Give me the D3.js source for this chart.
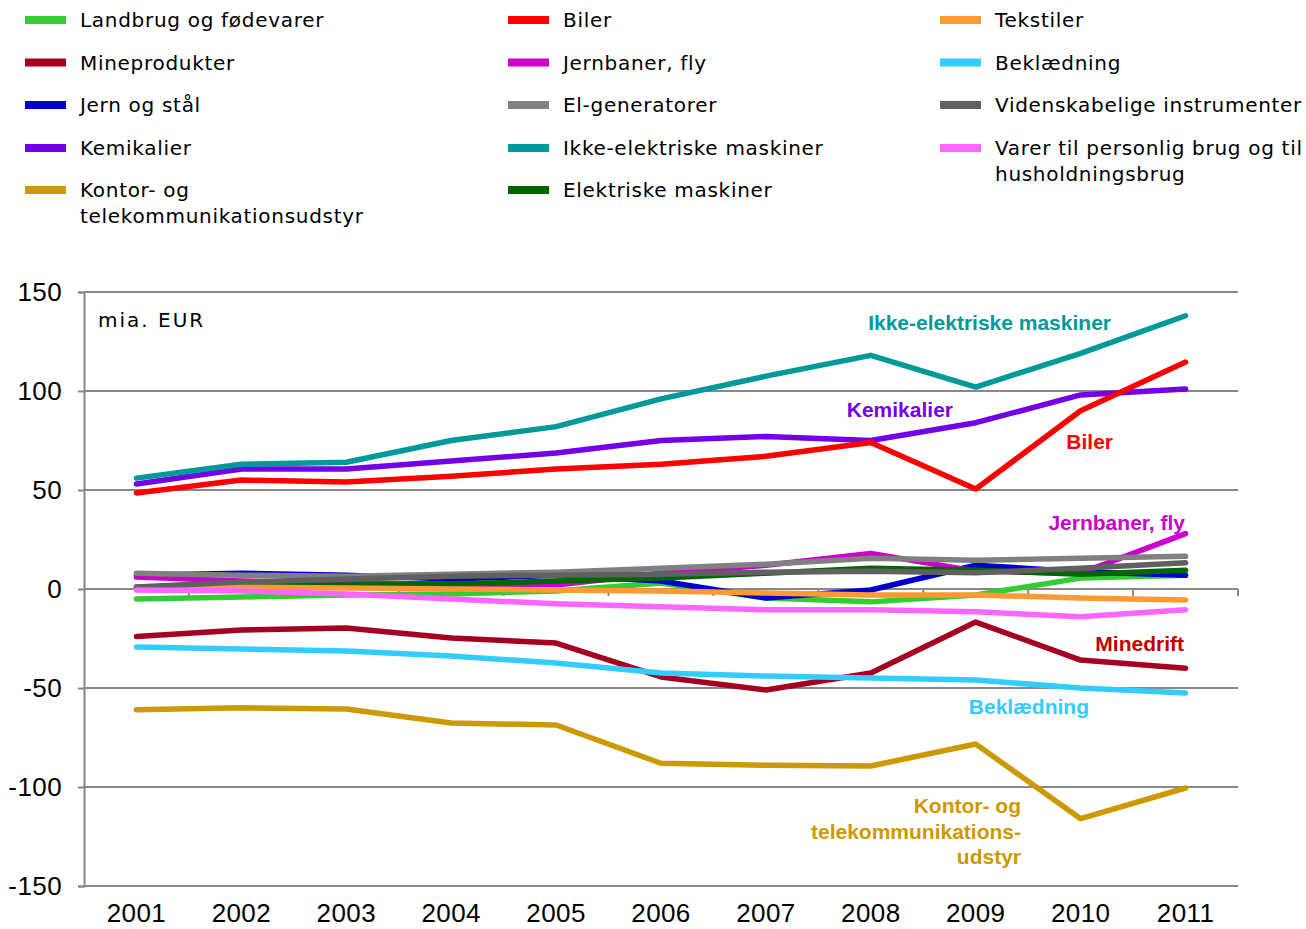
<!DOCTYPE html>
<html lang="da">
<head>
    <meta charset="UTF-8">
    <title>Handelsbalance efter varegruppe</title>
    <script src="https://d3js.org/d3.v7.min.js"></script>
    <style>
        body { margin: 0; background: white; }
        svg { display: block; }
        .legend-text { font-family: "DejaVu Sans", Verdana, sans-serif; font-size: 20px; letter-spacing: 0.7px; fill: #000; }
        .axis text { font-family: "Liberation Sans", Arial, sans-serif; font-size: 26px; letter-spacing: 0.4px; fill: #000; }
        .unit { font-family: "DejaVu Sans", Verdana, sans-serif; font-size: 20px; letter-spacing: 2px; fill: #000; }
        .line-label { font-family: "Liberation Sans", Arial, sans-serif; font-size: 21px; font-weight: bold; }
    </style>
</head>
<body>
<svg id="chart"></svg>
<script>
    const years = ["2001", "2002", "2003", "2004", "2005", "2006", "2007", "2008", "2009", "2010", "2011"];
    const yTicks = [-150, -100, -50, 0, 50, 100, 150];

    const names = [
        "Landbrug og fødevarer", "Mineprodukter", "Jern og stål", "Kemikalier",
        "Kontor- og telekommunikationsudstyr",
        "Biler", "Jernbaner, fly", "El-generatorer", "Ikke-elektriske maskiner", "Elektriske maskiner",
        "Tekstiler", "Beklædning", "Videnskabelige instrumenter",
        "Varer til personlig brug og til husholdningsbrug"
    ];
    const colors = [
        "#33CC33", "#A50021", "#0000CC", "#7300E6", "#CC9900",
        "#FF0000", "#CC00CC", "#808080", "#009999", "#006600",
        "#FF9933", "#33CCFF", "#606060", "#FF66FF"
    ];

    const landbrug = [-5, -4, -3, -2.5, -1, 3, -4.5, -6.5, -3, 5.5, 7];
    const mine = [-24, -20.7, -19.7, -24.7, -27.3, -44.4, -51, -42.4, -16.7, -35.9, -40];
    const jern = [7, 8, 7, 5, 7, 4, -4.5, -0.5, 12, 8.7, 7];
    const kemikalier = [53, 60.6, 60.6, 64.6, 68.7, 75, 77, 75, 84, 98, 101];
    const kontor = [-61, -60, -60.6, -67.7, -68.7, -88, -89, -89.4, -78.3, -116, -100.5];
    const biler = [48.5, 55, 54, 57, 60.6, 63, 67, 74, 50.5, 90, 114.6];
    const jernbaner = [6, 4, 3, 2.5, 2, 8, 12, 18, 9, 8, 28];
    const elgen = [8, 7, 6.5, 7.5, 8.5, 10.5, 12.5, 15.5, 14.5, 15.5, 16.5];
    const ikkeEl = [56, 63, 64, 75, 82, 96, 107.5, 118, 102, 119, 138];
    const elMaskiner = [1, 1.5, 2, 2.5, 4, 5.5, 8, 10.5, 9.5, 7.5, 9.5];
    const tekstiler = [1, 1, 0.5, 0, -0.5, -1, -2, -3, -3, -4.5, -5.5];
    const beklaedning = [-29.3, -30.3, -31.3, -33.8, -37.4, -42.4, -44, -45, -46, -50, -52.5];
    const videnskab = [1, 3.5, 5, 6.5, 7, 7.5, 8.5, 9, 8.2, 10.5, 13.3];
    const varer = [-0.5, -1, -2.5, -5, -7.5, -9, -10.5, -10.5, -11.5, -14, -10.5];

    const values = [landbrug, mine, jern, kemikalier, kontor, biler, jernbaner, elgen,
        ikkeEl, elMaskiner, tekstiler, beklaedning, videnskab, varer];

    const series = names.map((n, i) => ({ name: n, color: colors[i], values: values[i] }));

    const width = 1306, height = 929;
    const margin = { top: 292, right: 68, bottom: 43, left: 84 };
    const svg = d3.select("#chart").attr("width", width).attr("height", height);

    const x = d3.scaleBand().domain(years).range([margin.left, width - margin.right]).padding(0);
    const cx = d => x(d) + x.bandwidth() / 2;
    const y = d3.scaleLinear().domain([-150, 150]).range([height - margin.bottom, margin.top]);

    // y-axis with gridlines
    const yAxis = svg.append("g")
        .attr("class", "axis")
        .attr("transform", `translate(${margin.left},0)`)
        .call(d3.axisLeft(y).tickValues(yTicks).tickSize(6).tickPadding(16).tickFormat(d3.format("d")));
    yAxis.select(".domain").attr("stroke", "#888").attr("stroke-width", 2);
    yAxis.selectAll(".tick line").attr("stroke", "#888").attr("stroke-width", 2);
    yAxis.selectAll(".tick text").text(d => d < 0 ? "-" + Math.abs(d) : d);

    svg.append("g")
        .selectAll("line")
        .data(yTicks.filter(d => d !== 0))
        .enter().append("line")
        .attr("x1", margin.left).attr("x2", width - margin.right)
        .attr("y1", d => y(d)).attr("y2", d => y(d))
        .attr("stroke", "#888").attr("stroke-width", 2);

    // zero axis with category ticks
    const zero = svg.append("g");
    zero.append("line")
        .attr("x1", margin.left).attr("x2", width - margin.right)
        .attr("y1", y(0)).attr("y2", y(0))
        .attr("stroke", "#888").attr("stroke-width", 2);
    zero.selectAll(".ct")
        .data(years.slice(1).map(d => x(d)).concat([x.range()[1]]))
        .enter().append("line")
        .attr("x1", d => d).attr("x2", d => d)
        .attr("y1", y(0)).attr("y2", y(0) + 7)
        .attr("stroke", "#888").attr("stroke-width", 2);

    // year labels at bottom
    const xAxis = svg.append("g")
        .attr("class", "axis")
        .attr("transform", `translate(0,${height - margin.bottom})`)
        .call(d3.axisBottom(x).tickSize(0).tickPadding(18));
    xAxis.select(".domain").remove();

    svg.append("text").attr("class", "unit").attr("x", 98).attr("y", 327).text("mia. EUR");

    // lines
    const line = d3.line().x((d, i) => cx(years[i])).y(d => y(d));
    svg.append("g")
        .selectAll("path")
        .data(series)
        .enter().append("path")
        .attr("d", d => line(d.values))
        .attr("fill", "none")
        .attr("stroke", d => d.color)
        .attr("stroke-width", 5.5)
        .attr("stroke-linejoin", "round")
        .attr("stroke-linecap", "round");

    // legend
    const legendCols = [25, 508, 940];
    const legendRows = [20, 62.5, 105, 148, 190];
    const legendLayout = [
        [0, 0], [0, 1], [0, 2], [0, 3], [0, 4],
        [1, 0], [1, 1], [1, 2], [1, 3], [1, 4],
        [2, 0], [2, 1], [2, 2], [2, 3]
    ];
    const legendLines = {
        4: ["Kontor- og", "telekommunikationsudstyr"],
        13: ["Varer til personlig brug og til", "husholdningsbrug"]
    };
    const legend = svg.append("g");
    series.forEach((s, i) => {
        const [c, r] = legendLayout[i];
        const lx = legendCols[c], ly = legendRows[r];
        legend.append("rect")
            .attr("x", lx).attr("y", ly - 4)
            .attr("width", 41).attr("height", 8)
            .attr("fill", s.color);
        const t = legend.append("text")
            .attr("class", "legend-text")
            .attr("x", lx + 55).attr("y", ly + 7);
        (legendLines[i] || [s.name]).forEach((l, k) => {
            t.append("tspan").attr("x", lx + 55).attr("dy", k === 0 ? 0 : 25.5).text(l);
        });
    });

    // inline labels
    const labels = [
        { lines: ["Ikke-elektriske maskiner"], color: "#009999", x: 1111, y: 330 },
        { lines: ["Kemikalier"], color: "#7300E6", x: 953, y: 417 },
        { lines: ["Biler"], color: "#FF0000", x: 1113, y: 449 },
        { lines: ["Jernbaner, fly"], color: "#CC00CC", x: 1185, y: 530 },
        { lines: ["Minedrift"], color: "#C00000", x: 1184, y: 651 },
        { lines: ["Beklædning"], color: "#33CCFF", x: 1089, y: 714 },
        { lines: ["Kontor- og", "telekommunikations-", "udstyr"], color: "#CC9900", x: 1021, y: 813 }
    ];
    labels.forEach(l => {
        const t = svg.append("text")
            .attr("class", "line-label")
            .attr("fill", l.color)
            .attr("text-anchor", "end")
            .attr("x", l.x).attr("y", l.y);
        l.lines.forEach((s, k) => {
            t.append("tspan").attr("x", l.x).attr("dy", k === 0 ? 0 : 25.5).text(s);
        });
    });
</script>
</body>
</html>
